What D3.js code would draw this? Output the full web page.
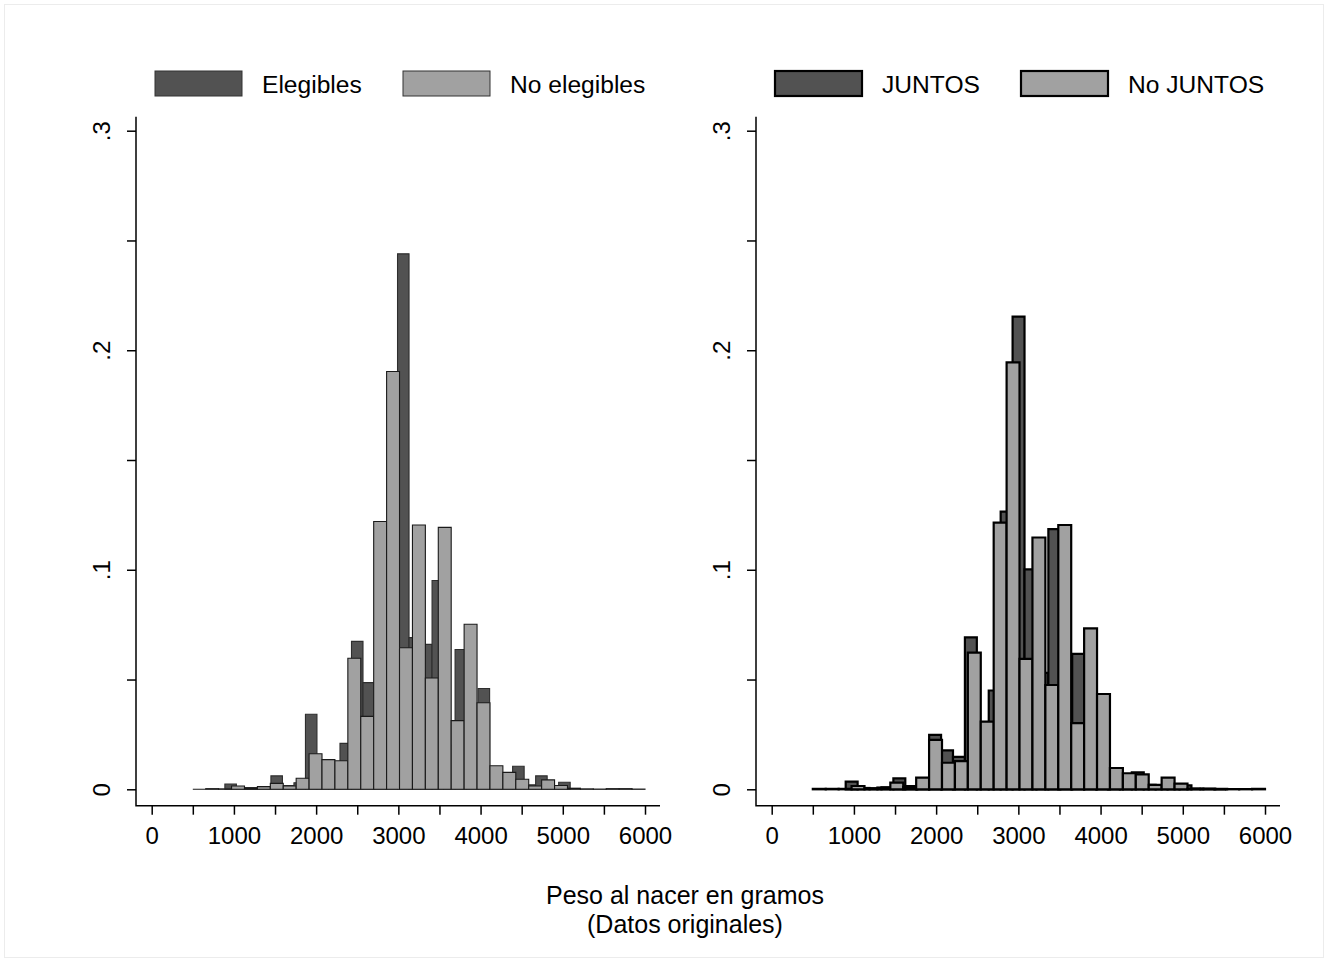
<!DOCTYPE html>
<html>
<head>
<meta charset="utf-8">
<script src="https://cdn.jsdelivr.net/npm/d3@7"></script>
<style>
  body { margin: 0; background: #fff; }
  svg { display: block; font-family: "Liberation Sans", Arial, sans-serif; }
</style>
</head>
<body>
<div id="chart"></div>
<script>
// Fractions per bin (Stata "histogram, fraction")
var noElegStart = 500, noElegWidth = 5500 / 35;
var noElegibles = [0, 0.0003, 0.0002, 0.0015, 0.0005, 0.0012, 0.0027, 0.0015, 0.0050, 0.0162,
  0.0135, 0.0130, 0.0597, 0.0332, 0.1220, 0.1903, 0.0645, 0.1204, 0.0507, 0.1193,
  0.0313, 0.0752, 0.0394, 0.0107, 0.0077, 0.0046, 0.0015, 0.0043, 0.0017, 0.0005,
  0.0002, 0.0001, 0.0003, 0.0003, 0.0001];

var elegStart = 890, elegWidth = 140;
var elegibles = [0.0024, 0.0008, 0.0008, 0.0012, 0.0061, 0.0017, 0.0030, 0.0342, 0.0080, 0.0060,
  0.0209, 0.0674, 0.0486, 0.0600, 0.0700, 0.2439, 0.0691, 0.0660, 0.0951, 0.0200,
  0.0637, 0.0300, 0.0459, 0.0060, 0.0040, 0.0105, 0.0020, 0.0061, 0.0015, 0.0032];

var noJuntosStart = 500, noJuntosWidth = 5500 / 35;
var noJuntos = [0.0002, 0.0002, 0.0002, 0.0015, 0.0005, 0.0008, 0.0030, 0.0010, 0.0053, 0.0225,
  0.0121, 0.0128, 0.0623, 0.0308, 0.1215, 0.1945, 0.0594, 0.1147, 0.0475, 0.1204,
  0.0301, 0.0733, 0.0434, 0.0097, 0.0073, 0.0068, 0.0020, 0.0053, 0.0026, 0.0003,
  0.0002, 0, 0.0001, 0.0001, 0.0002];

var juntosStart = 900, juntosWidth = 145;
var juntos = [0.0035, 0.0006, 0.0003, 0.0009, 0.0050, 0.0015, 0.0030, 0.0248, 0.0177, 0.0148,
  0.0692, 0.0250, 0.0450, 0.1265, 0.2153, 0.1002, 0.0530, 0.1185, 0.0250, 0.0617,
  0.0200, 0.0400, 0.0080, 0.0060, 0.0077, 0.0020, 0.0015, 0.0012, 0.0018, 0.0003,
  0.0003, 0.0002];

var xTickValues = [0, 500, 1000, 1500, 2000, 2500, 3000, 3500, 4000, 4500, 5000, 5500, 6000];
var xTickLabels = ["0", "", "1000", "", "2000", "", "3000", "", "4000", "", "5000", "", "6000"];
var yTickValues = [0, 0.05, 0.1, 0.15, 0.2, 0.25, 0.3];
var yTickLabels = ["0", "", ".1", "", ".2", "", ".3"];

var legendLeft = ["Elegibles", "No elegibles"];
var legendRight = ["JUNTOS", "No JUNTOS"];
var xTitle = ["Peso al nacer en gramos", "(Datos originales)"];

var width = 1328, height = 962;
var darkFill = "#525252", lightFill = "#a1a1a1";

var svg = d3.select("#chart").append("svg")
  .attr("width", width)
  .attr("height", height);

svg.append("rect")
  .attr("x", 4.5).attr("y", 4.5)
  .attr("width", width - 9).attr("height", height - 9)
  .attr("fill", "#fff").attr("stroke", "#ececec");

var panels = [
  { left: 136, legend: legendLeft, legendX: [155, 403],
    series: [
      { start: elegStart, w: elegWidth, values: elegibles, fill: darkFill, stroke: "#2e2e2e" },
      { start: noElegStart, w: noElegWidth, values: noElegibles, fill: lightFill, stroke: "#1a1a1a" }
    ], strokeWidth: 1.1, keyStroke: "#333", keyWidth: 1 },
  { left: 756, legend: legendRight, legendX: [775, 1021],
    series: [
      { start: juntosStart, w: juntosWidth, values: juntos, fill: darkFill, stroke: "#000" },
      { start: noJuntosStart, w: noJuntosWidth, values: noJuntos, fill: lightFill, stroke: "#000" }
    ], strokeWidth: 2.2, keyStroke: "#000", keyWidth: 2.2 }
];

var plotTop = 116.7, plotBottom = 805.7, plotW = 524;

panels.forEach(function(p) {
  var x = d3.scaleLinear().domain([0, 6000]).range([p.left + 15.7, p.left + 509]);
  var y = d3.scaleLinear().domain([0, 0.3]).range([789.3, 130.7]);
  var g = svg.append("g");

  // bars: dark series behind, light series in front
  p.series.forEach(function(s) {
    g.append("g").selectAll("path")
      .data(s.values)
      .enter().append("path")
      .attr("d", function(d, i) {
        var x0 = x(s.start + i * s.w), x1 = x(s.start + (i + 1) * s.w);
        return "M" + x0 + "," + y(0) + "V" + y(d) + "H" + x1 + "V" + y(0) + "Z";
      })
      .attr("fill", s.fill)
      .attr("stroke", s.stroke)
      .attr("stroke-width", p.strokeWidth)
      .attr("stroke-linejoin", "miter");
  });

  // Y axis
  var yAxis = g.append("g")
    .attr("transform", "translate(" + p.left + ",0)")
    .call(d3.axisLeft(y).tickValues(yTickValues).tickSize(9)
      .tickFormat(function(d, i) { return yTickLabels[i]; }));
  yAxis.select(".domain").remove();
  yAxis.selectAll("line").attr("stroke", "#000").attr("stroke-width", 1.5);
  yAxis.selectAll("text")
    .attr("x", 0).attr("y", -26).attr("dy", 0)
    .attr("transform", "rotate(-90)")
    .attr("text-anchor", "middle")
    .attr("font-size", 24).attr("font-family", null).attr("fill", "#000");

  // X axis
  var xAxis = g.append("g")
    .attr("transform", "translate(0," + plotBottom + ")")
    .call(d3.axisBottom(x).tickValues(xTickValues).tickSize(9).tickPadding(12)
      .tickFormat(function(d, i) { return xTickLabels[i]; }));
  xAxis.select(".domain").remove();
  xAxis.selectAll("line").attr("stroke", "#000").attr("stroke-width", 1.5);
  xAxis.selectAll("text").attr("font-size", 24).attr("font-family", null).attr("fill", "#000");

  g.append("path")
    .attr("d", "M" + p.left + "," + plotTop + "V" + plotBottom + "H" + (p.left + plotW))
    .attr("fill", "none").attr("stroke", "#000").attr("stroke-width", 1.5);

  // legend
  p.legend.forEach(function(name, i) {
    g.append("rect")
      .attr("x", p.legendX[i]).attr("y", 71)
      .attr("width", 87).attr("height", 25)
      .attr("fill", i === 0 ? darkFill : lightFill)
      .attr("stroke", p.keyStroke).attr("stroke-width", p.keyWidth);
    g.append("text")
      .attr("x", p.legendX[i] + 107).attr("y", 93)
      .attr("font-size", 24.6)
      .text(name);
  });
});

svg.append("text")
  .attr("x", 685).attr("y", 904)
  .attr("text-anchor", "middle").attr("font-size", 25)
  .text(xTitle[0]);
svg.append("text")
  .attr("x", 685).attr("y", 933)
  .attr("text-anchor", "middle").attr("font-size", 25)
  .text(xTitle[1]);
</script>
</body>
</html>
